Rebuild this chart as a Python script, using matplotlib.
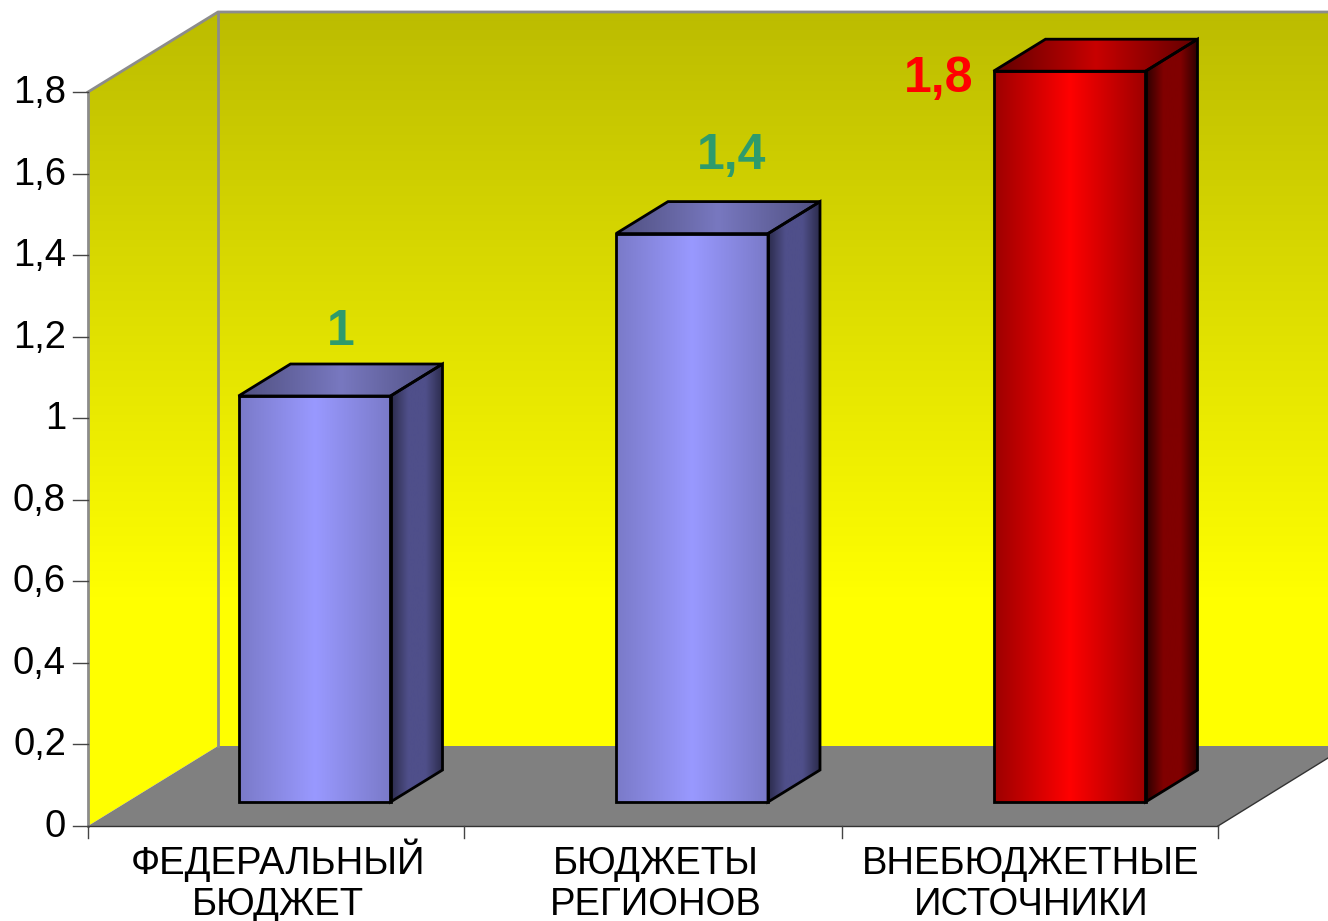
import numpy as np
import matplotlib
matplotlib.use("Agg")
import matplotlib.pyplot as plt
from matplotlib.colors import LinearSegmentedColormap
from matplotlib.patches import Polygon

categories = [["ФЕДЕРАЛЬНЫЙ", "БЮДЖЕТ"], ["БЮДЖЕТЫ", "РЕГИОНОВ"], ["ВНЕБЮДЖЕТНЫЕ", "ИСТОЧНИКИ"]]
values = [1, 1.4, 1.8]
value_labels = ["1", "1,4", "1,8"]
yticks = [0, 0.2, 0.4, 0.6, 0.8, 1, 1.2, 1.4, 1.6, 1.8]
ytick_labels = ["0", "0,2", "0,4", "0,6", "0,8", "1", "1,2", "1,4", "1,6", "1,8"]

W, H = 1328, 921
plt.rcParams['font.family'] = ['Liberation Sans', 'DejaVu Sans']

fig = plt.figure(figsize=(W / 100, H / 100), dpi=100)
ax = fig.add_axes([0, 0, 1, 1])
ax.set_xlim(0, W)
ax.set_ylim(H, 0)
ax.axis("off")


# value -> pixel, front plane of the box and plane of the bars
def ypx(v):
    return 826 - 407.8 * v


def bar_y(v):
    return 802 - 406 * v


wall = LinearSegmentedColormap.from_list(
    "wall", [(0, "#bcbc00"), (0.72, "#ffff00"), (1, "#ffff00")])


def grad(cmap, x0, x1, y0, y1, clip, vertical=True, zorder=1):
    g = np.linspace(0, 1, 256)
    g = g[:, None] if vertical else g[None, :]
    im = ax.imshow(g, cmap=cmap, extent=[x0, x1, y1, y0], aspect="auto", zorder=zorder)
    p = Polygon(clip, transform=ax.transData, closed=True, fc="none", ec="none")
    ax.add_patch(p)
    im.set_clip_path(p)


# back wall + side wall
grad(wall, 88, W, 12, 826, [(218, 12), (W, 12), (W, 746), (218, 746)])
grad(wall, 88, 218, 12, 826, [(88, 92), (218, 12), (218, 746), (88, 826)])
# floor
ax.add_patch(Polygon([(88, 826), (218, 746), (W, 746), (W, 758), (1218, 826)],
                     fc="#808080", ec="none", zorder=2))
ax.plot([88, 218, W], [92, 12, 12], color="#8c8c8c", lw=2, zorder=3)
ax.plot([88, 88], [92, 826], color="#8c8c8c", lw=2, zorder=3)
ax.plot([218, 218], [12, 746], color="#8c8c8c", lw=2, zorder=3)

# axes
ax.plot([88, 1218], [826, 826], color="#333333", lw=1, zorder=3)
ax.plot([1218, W], [826, 758], color="#333333", lw=1, zorder=3)
for xt in [88, 464, 842, 1218]:
    ax.plot([xt, xt], [826, 838], color="#444444", lw=1, zorder=3)
for v, lab in zip(yticks, ytick_labels):
    y = ypx(v)
    ax.plot([73, 88], [y, y], color="#444444", lw=1, zorder=3)
    ax.text(66, y + 1, lab, ha="right", va="center", fontsize=27.5, color="black")

label_x = [278, 656, 1031]
label_base = [874, 915]
value_x = [341, 732, 939]
value_y = [332, 156, 79]
value_colors = ["#2e9b6c", "#2e9b6c", "#ff0000"]

blue = LinearSegmentedColormap.from_list("b", ["#7a7ac8", "#9999ff", "#7a7ac8"])
red = LinearSegmentedColormap.from_list("r", ["#9c0000", "#ff0000", "#9c0000"])
top_b = LinearSegmentedColormap.from_list("tb", ["#505080", "#7878c0", "#505080"])
top_r = LinearSegmentedColormap.from_list("tr", ["#600000", "#c80000", "#600000"])
side_b = LinearSegmentedColormap.from_list("sb", ["#2c2c4c", "#4f4f8a", "#4f4f8a", "#2c2c4c"])
side_r = LinearSegmentedColormap.from_list("sr", ["#2c0000", "#800000", "#800000", "#2c0000"])

bar_w = 152
bar_dx, bar_dy = 52, -32
bottom = bar_y(0)
for i, v in enumerate(values):
    x0 = 238.5 + 377.5 * i
    x1 = x0 + bar_w
    top = bar_y(v)
    front_cm, top_cm, side_cm = (red, top_r, side_r) if i == 2 else (blue, top_b, side_b)
    front = [(x0, top), (x1, top), (x1, bottom), (x0, bottom)]
    tp = [(x0, top), (x0 + bar_dx, top + bar_dy), (x1 + bar_dx, top + bar_dy), (x1, top)]
    side = [(x1, top), (x1 + bar_dx, top + bar_dy), (x1 + bar_dx, bottom + bar_dy), (x1, bottom)]
    grad(front_cm, x0, x1, top, bottom, front, vertical=False, zorder=4)
    grad(top_cm, x0, x1 + bar_dx, top + bar_dy, top, tp, vertical=False, zorder=4)
    grad(side_cm, x1, x1 + bar_dx, top + bar_dy, bottom, side, vertical=False, zorder=4)
    for poly in (front, tp, side):
        ax.add_patch(Polygon(poly, fc="none", ec="black", lw=2, zorder=5))
    ax.text(value_x[i], value_y[i], value_labels[i], ha="center", va="center",
            fontsize=36, fontweight="bold", color=value_colors[i], zorder=6)
    for line, base in zip(categories[i], label_base):
        ax.text(label_x[i], base, line, ha="center", va="baseline",
                fontsize=27.5, color="black")

ax.set_xlim(0, W)
ax.set_ylim(H, 0)
fig.savefig("out.png", dpi=100)
